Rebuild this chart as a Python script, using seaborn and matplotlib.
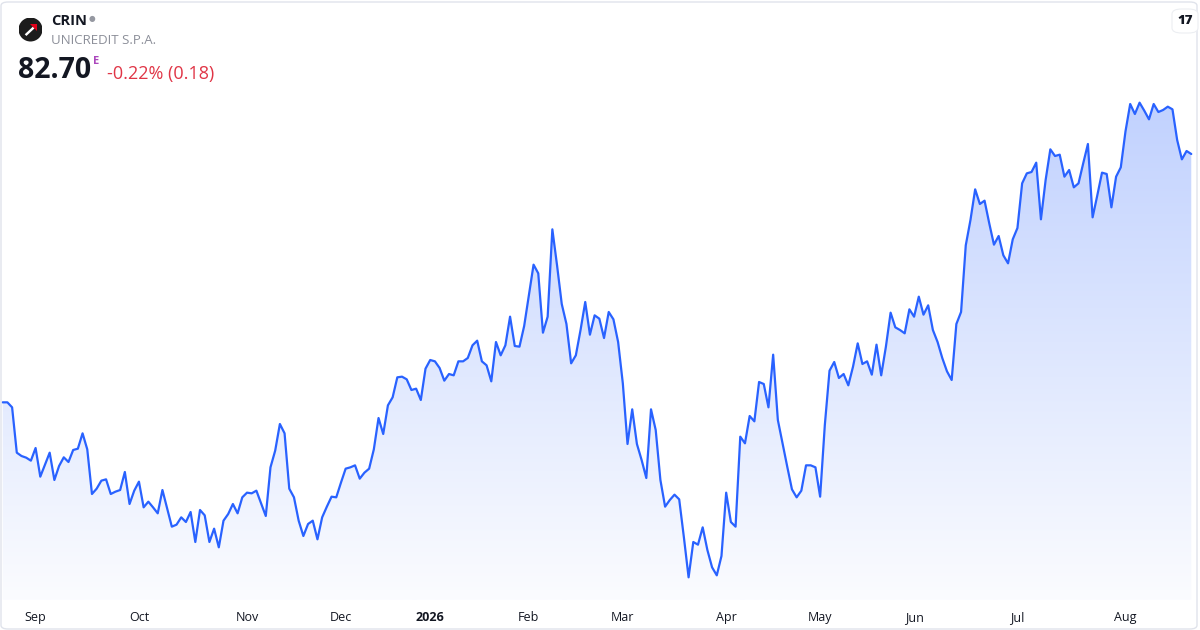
import numpy as np
import pandas as pd
import matplotlib
matplotlib.use("Agg")
import matplotlib.pyplot as plt
import seaborn as sns
from matplotlib.colors import LinearSegmentedColormap
from matplotlib.patches import FancyBboxPatch, Circle, Polygon

# ---------------- data ----------------
prices = [
    67.80, 67.80, 67.50, 64.78, 64.58, 64.48, 64.30, 65.06, 63.34, 64.06,
    64.78, 63.14, 63.98, 64.50, 64.22, 64.94, 65.02, 65.94, 64.98, 62.30,
    62.62, 63.10, 63.18, 62.30, 62.44, 62.54, 63.62, 61.70, 62.50, 63.04,
    61.50, 61.84, 61.50, 61.14, 62.54, 61.44, 60.34, 60.46, 60.90, 60.62,
    61.22, 59.42, 61.34, 61.02, 59.42, 60.22, 59.10, 60.70, 61.10, 61.70,
    61.14, 62.10, 62.38, 62.34, 62.50, 61.74, 60.98, 63.90, 64.90, 66.50,
    65.94, 62.62, 62.10, 60.70, 59.78, 60.50, 60.70, 59.58, 60.90, 61.54,
    62.14, 62.10, 62.98, 63.82, 63.90, 64.02, 63.22, 63.58, 63.82, 64.98,
    66.86, 65.90, 67.62, 68.10, 69.30, 69.34, 69.18, 68.54, 68.62, 67.94,
    69.82, 70.34, 70.26, 69.86, 69.10, 69.50, 69.42, 70.26, 70.26, 70.46,
    71.22, 71.50, 70.26, 70.02, 69.06, 71.42, 70.62, 71.22, 72.94, 71.18,
    71.14, 72.38, 74.22, 76.06, 75.54, 71.98, 72.94, 78.18, 76.02, 73.70,
    72.50, 70.14, 70.62, 72.14, 73.82, 71.86, 73.02, 72.82, 71.66, 73.22,
    72.78, 71.42, 68.94, 65.30, 67.38, 65.30, 64.34, 63.26, 67.38, 66.14,
    63.14, 61.54, 61.94, 62.26, 61.98, 59.70, 57.30, 59.42, 59.26, 60.30,
    58.94, 57.90, 57.42, 58.58, 62.38, 60.62, 60.34, 65.74, 65.34, 66.98,
    66.66, 69.02, 68.90, 67.50, 70.66, 66.74, 65.34, 63.94, 62.58, 62.10,
    62.50, 64.02, 64.02, 63.90, 62.14, 66.44, 69.70, 70.22, 69.26, 69.50,
    68.82, 69.94, 71.34, 70.10, 70.26, 69.46, 71.26, 69.42, 71.14, 73.18,
    72.30, 72.14, 71.94, 73.38, 72.94, 74.14, 73.06, 73.62, 72.14, 71.42,
    70.46, 69.66, 69.14, 72.50, 73.22, 77.22, 78.74, 80.58, 79.70, 79.90,
    78.54, 77.26, 77.78, 76.62, 76.14, 77.58, 78.26, 80.94, 81.54, 81.62,
    82.18, 78.78, 81.14, 82.98, 82.58, 82.66, 81.34, 81.74, 80.70, 80.94,
    82.14, 83.30, 78.90, 80.22, 81.58, 81.50, 79.50, 81.34, 81.90, 84.06,
    85.70, 85.10, 85.78, 85.30, 84.78, 85.70, 85.22, 85.34, 85.54, 85.38,
    83.54, 82.38, 82.88, 82.70,
]
tick_positions = [7, 29, 52, 72, 91, 112, 132, 154, 174, 194, 216, 239]
tick_labels = ["Sep", "Oct", "Nov", "Dec", "2026", "Feb", "Mar", "Apr",
               "May", "Jun", "Jul", "Aug"]
symbol = "CRIN"
company = "UNICREDIT S.P.A."
last_price = "82.70"
change_text = "-0.22% (0.18)"

df = pd.DataFrame({"day": np.arange(len(prices)), "price": prices})

# ---------------- style ----------------
sns.set_theme(style="white")
plt.rcParams["font.family"] = ["Open Sans", "DejaVu Sans"]

W, H = 1200, 630
fig = plt.figure(figsize=(W / 100, H / 100), dpi=100)
fig.patch.set_facecolor("white")

ax_top_px, ax_bot_px = 85, 600
ax = fig.add_axes([0, (H - ax_bot_px) / H, 1, (ax_bot_px - ax_top_px) / H])
ax.set_facecolor("none")

x0, x1 = -0.575, 254.86
y0, y1 = 55.94, 86.84
ax.set_xlim(x0, x1)
ax.set_ylim(y0, y1)

line_color = "#2962ff"

# gradient fill under the line
grad = np.linspace(1, 0, 256).reshape(-1, 1)
cmap = LinearSegmentedColormap.from_list(
    "g", [(0.0, "#fbfcff"), (1.0, "#bfd0fe")])
im = ax.imshow(grad, extent=[x0, x1, y0, y1], aspect="auto", cmap=cmap,
               origin="upper", zorder=1, interpolation="bilinear")
im.set_extent([x0, x1, y0, y1])
poly = ax.fill_between(df["day"], df["price"], y0, facecolor="none",
                       edgecolor="none")
im.set_clip_path(poly.get_paths()[0], transform=ax.transData)

sns.lineplot(data=df, x="day", y="price", ax=ax, color=line_color,
             linewidth=1.6, zorder=3)

for s in ax.spines.values():
    s.set_visible(False)
ax.set_xlabel("")
ax.set_ylabel("")
ax.set_yticks([])
ax.set_xticks(tick_positions)
ax.set_xticklabels(tick_labels)
ax.tick_params(axis="x", length=0, pad=8, labelsize=9, labelcolor="#131722")
for lbl in ax.get_xticklabels():
    if lbl.get_text() == "2026":
        lbl.set_fontweight("bold")

# ---------------- header ----------------
def fx(px):
    return px / W


def fy(py):
    return 1 - py / H


# card border
fig.patches.append(FancyBboxPatch((fx(1), fy(629)), fx(1196), 627 / H,
                                  boxstyle="round,pad=0,rounding_size=0.006",
                                  transform=fig.transFigure, fill=False,
                                  edgecolor="#e0e3eb", linewidth=1.0,
                                  zorder=0))

# logo
logo_ax = fig.add_axes([fx(18.5), fy(41.5), 24 / W, 24 / H])
logo_ax.set_xlim(0, 1)
logo_ax.set_ylim(0, 1)
logo_ax.set_aspect("equal")
logo_ax.axis("off")
logo_ax.add_patch(Circle((0.5, 0.5), 0.5, facecolor="#1c1c1c", edgecolor="none"))
logo_ax.add_patch(Polygon([[0.26, 0.30], [0.60, 0.62], [0.67, 0.55], [0.33, 0.23]],
                          closed=True, facecolor="white", edgecolor="none"))
logo_ax.add_patch(Polygon([[0.46, 0.74], [0.76, 0.74], [0.76, 0.44]],
                          closed=True, facecolor="#e2001a", edgecolor="none"))

fig.text(fx(51), fy(21), symbol, fontsize=10.5, fontweight="bold",
         color="#131722", va="center", ha="left")
fig.text(fx(89), fy(20), "\u25CF", fontsize=5.5, color="#9598a1",
         va="center", ha="left")
fig.text(fx(51), fy(40), company, fontsize=9.5, color="#8c8f99",
         va="center", ha="left")
fig.text(fx(18), fy(71), last_price, fontsize=20.5, fontweight="bold",
         color="#131722", va="center", ha="left")
fig.text(fx(93.5), fy(61), "E", fontsize=8, fontweight="bold",
         color="#ab47bc", va="center", ha="left")
fig.text(fx(107), fy(74), change_text, fontsize=13, color="#e03546",
         va="center", ha="left")

# TradingView badge
fig.patches.append(FancyBboxPatch((fx(1172), fy(33)), 26 / W, 24 / H,
                                  boxstyle="round,pad=0,rounding_size=0.008",
                                  transform=fig.transFigure,
                                  facecolor="white", edgecolor="#eceef2",
                                  linewidth=0.8, zorder=5))
fig.text(fx(1185), fy(21), "17", fontsize=9.5, fontweight="black",
         color="#131722", va="center", ha="center", zorder=6)

fig.savefig("out.png", dpi=100, facecolor="white")
